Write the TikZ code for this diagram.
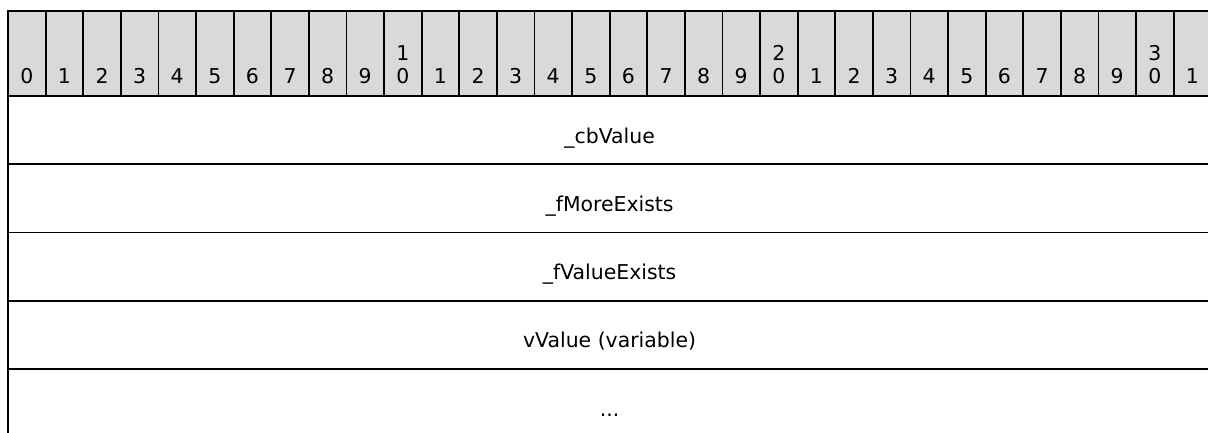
\documentclass[tikz,border=0pt]{standalone}
\usepackage{fontspec}
\setmainfont{DejaVu Sans}
\definecolor{hdrgray}{RGB}{217,217,217}
\begin{document}
\begin{tikzpicture}[x=1bp,y=-1bp,
  cell/.style={draw=black, line width=1.8bp, inner sep=0pt, outer sep=0pt, anchor=north west},
  hdrcell/.style={cell, fill=hdrgray, minimum width=37.6bp, minimum height=85bp},
  rowcell/.style={cell, fill=white, minimum width=1203.2bp, minimum height=68.25bp},
  digit/.style={font=\fontsize{20.5}{22.5}\selectfont, align=center, inner sep=0pt, text depth=0pt, anchor=south},
  field/.style={font=\fontsize{20.5}{24}\selectfont, inner sep=0pt, anchor=base}]
\useasboundingbox (0,0) rectangle (1208,432);
\clip (0,0) rectangle (1208,432);
% field rows
\node[rowcell] (r1) at (8,96) {};
\node[rowcell] (r2) at (8,164.25) {};
\node[rowcell] (r3) at (8,232.5) {};
\node[rowcell] (r4) at (8,300.75) {};
\node[rowcell] (r5) at (8,369) {};
\node[field] (f1) at (609.6,143) {\_cbValue};
\node[field] (f2) at (609.6,211.25) {\_fMoreExists};
\node[field] (f3) at (609.6,279.5) {\_fValueExists};
\node[field] (f4) at (609.6,347.75) {vValue (variable)};
\node[field] (f5) at (609.6,416) {...};
% header
\foreach [count=\i from 0] \t in {0,1,2,3,4,5,6,7,8,9,{1\\0},1,2,3,4,5,6,7,8,9,{2\\0},1,2,3,4,5,6,7,8,9,{3\\0},1}{
  \node[hdrcell] (h\i) at ({8+37.6*\i},11) {};
  \node[digit] (d\i) at ({8+37.6*(\i+0.5)},83.5) {\t};
}
\end{tikzpicture}
\end{document}
